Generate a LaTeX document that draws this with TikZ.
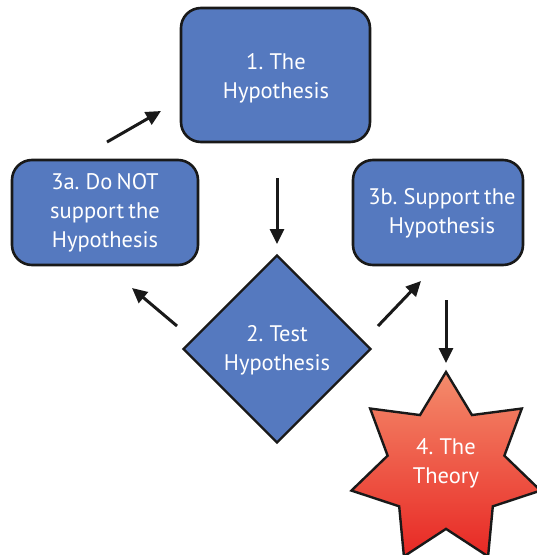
\documentclass[tikz,border=0pt]{standalone}
\usepackage{fontspec}
\setmainfont[WordSpace=0.7]{PT Sans}
\usetikzlibrary{shapes.geometric,arrows.meta}
\definecolor{boxblue}{RGB}{85,121,191}
\definecolor{starTop}{RGB}{244,140,108}
\definecolor{starBot}{RGB}{232,40,36}
\begin{document}
\begin{tikzpicture}[x=1pt,y=-1pt,
  every node/.style={font=\fontsize{22.5}{29}\selectfont, text=white, align=center},
  rbox/.style={draw=black!90, line width=2.6pt, fill=boxblue, rounded corners=20pt, inner sep=0pt},
  dia/.style={diamond, draw=black!90, line width=2.4pt, fill=boxblue, inner sep=0pt, minimum width=188pt, minimum height=188pt},
  starshape/.style={star, star points=7, star point ratio=1.62, draw=black!90, line width=2.4pt, top color=starTop, bottom color=starBot, inner sep=0pt, minimum size=194pt},
  arr/.style={line width=3pt, -{Triangle[length=15pt,width=14pt]}, black!90}]
\useasboundingbox (0,0) rectangle (537,555);
\node[rbox, minimum width=189pt, minimum height=134pt] (h1) at (275.5,75) {};
\node (t1) at (276,78) {1. The\\Hypothesis};
\node[rbox, minimum width=186pt, minimum height=105pt] (h3a) at (105,212.5) {};
\node (t3a) at (105,213) {3a. Do NOT\\support the\\Hypothesis};
\node[rbox, minimum width=170pt, minimum height=105pt] (h3b) at (438,212.5) {};
\node (t3b) at (442,213) {3b. Support the\\Hypothesis};
\node[dia] (h2) at (277,349) {};
\node (t2) at (277,350) {2. Test\\Hypothesis};
\node[starshape] (h4) at (446,469) {};
\node (t4) at (446,463) {4. The\\Theory};
\coordinate (a1s) at (107,142); \coordinate (a1e) at (161,111);
\coordinate (a2s) at (277,178); \coordinate (a2e) at (277,244);
\coordinate (a3s) at (177,326); \coordinate (a3e) at (132,288);
\coordinate (a4s) at (378,326); \coordinate (a4e) at (421,281);
\coordinate (a5s) at (446,300); \coordinate (a5e) at (446,363);
\draw[arr] (a1s) -- (a1e);
\draw[arr] (a2s) -- (a2e);
\draw[arr] (a3s) -- (a3e);
\draw[arr] (a4s) -- (a4e);
\draw[arr] (a5s) -- (a5e);
\end{tikzpicture}
\end{document}
